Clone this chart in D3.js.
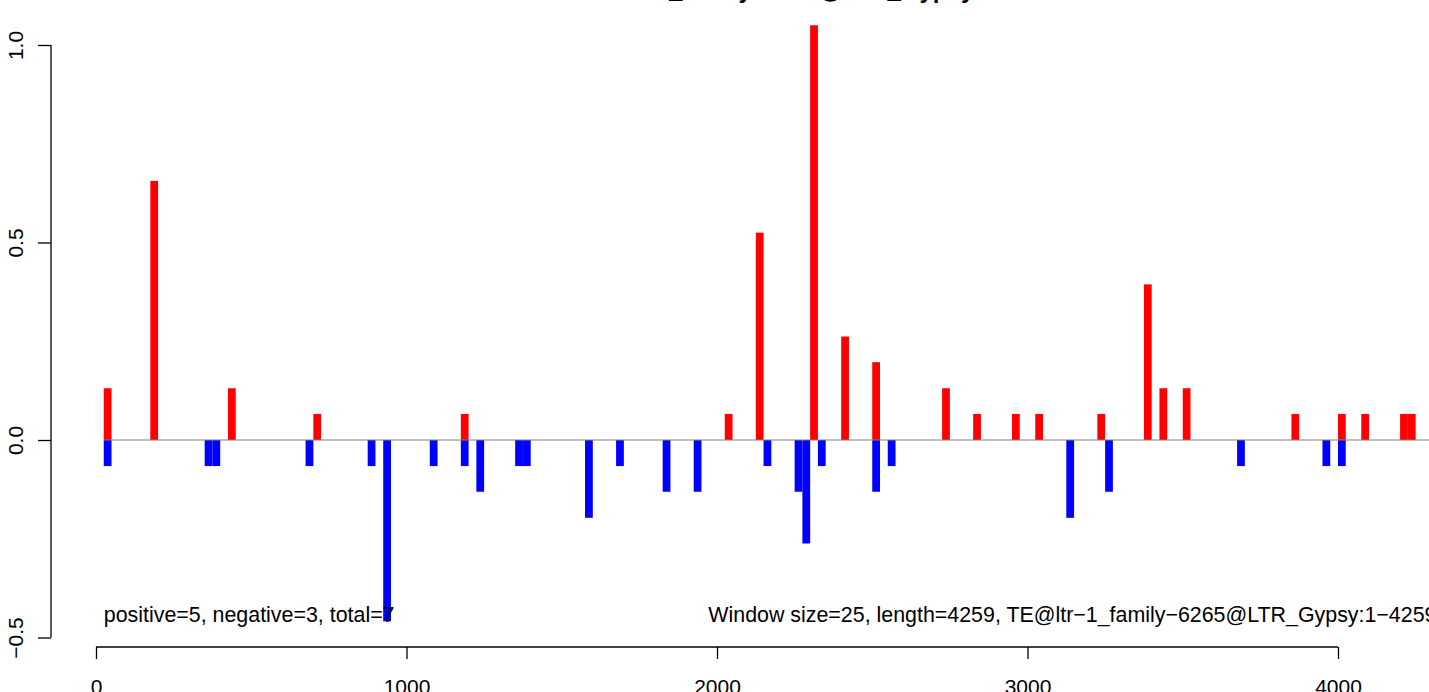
<!DOCTYPE html>
<html>
<head>
<meta charset="utf-8">
<script src="https://cdn.jsdelivr.net/npm/d3@7"></script>
<style>
  html, body { margin: 0; padding: 0; background: #fff; overflow: hidden; }
  svg { display: block; font-family: "Liberation Sans", Arial, Helvetica, sans-serif; }
</style>
</head>
<body>
<svg id="chart" width="1429" height="692"></svg>
<script>
// ---- data (window start positions, bp) ----
const windowSize = 25;
const posStarts = [25, 175, 425, 700, 1175, 2025, 2125, 2300, 2400, 2500, 2725, 2825, 2950, 3025, 3225, 3375, 3425, 3500, 3850, 4000, 4075, 4200, 4225];
const posValues = [0.131, 0.656, 0.131, 0.066, 0.066, 0.066, 0.525, 1.05, 0.262, 0.197, 0.131, 0.066, 0.066, 0.066, 0.066, 0.394, 0.131, 0.131, 0.066, 0.066, 0.066, 0.066, 0.066];
const negStarts = [25, 350, 375, 675, 875, 925, 1075, 1175, 1225, 1350, 1375, 1575, 1675, 1825, 1925, 2150, 2250, 2275, 2325, 2500, 2550, 3125, 3250, 3675, 3950, 4000];
const negValues = [-0.066, -0.066, -0.066, -0.066, -0.066, -0.459, -0.066, -0.066, -0.131, -0.066, -0.066, -0.197, -0.066, -0.131, -0.131, -0.066, -0.131, -0.262, -0.066, -0.131, -0.066, -0.197, -0.131, -0.066, -0.066, -0.066];
const xTicks = [0, 1000, 2000, 3000, 4000];
const xTickLabels = ["0", "1000", "2000", "3000", "4000"];
const yTicks = [-0.5, 0.0, 0.5, 1.0];
const yTickLabels = ["\u22120.5", "0.0", "0.5", "1.0"];
const titleText = "ltr\u22121_family\u22126265@LTR_Gypsy";
const leftNote = "positive=5, negative=3, total=7";
const rightNote = "Window size=25, length=4259, TE@ltr\u22121_family\u22126265@LTR_Gypsy:1\u22124259";

// ---- scales ----
const svg = d3.select("#chart");
const x = d3.scaleLinear().domain([0, 4000]).range([96, 1338]);
const y = d3.scaleLinear().domain([-0.5, 1.0]).range([637.5, 45]);

svg.append("rect").attr("width", 1429).attr("height", 692).attr("fill", "#fff");

// bars
const posData = posStarts.map((s, i) => ({ s, v: posValues[i] }));
const negData = negStarts.map((s, i) => ({ s, v: negValues[i] }));

svg.append("g").selectAll("rect").data(posData).join("rect")
  .attr("x", d => x(d.s))
  .attr("width", d => x(d.s + windowSize) - x(d.s))
  .attr("y", d => y(d.v))
  .attr("height", d => y(0) - y(d.v))
  .attr("fill", "#ff0000");

svg.append("g").selectAll("rect").data(negData).join("rect")
  .attr("x", d => x(d.s))
  .attr("width", d => x(d.s + windowSize) - x(d.s))
  .attr("y", y(0))
  .attr("height", d => y(d.v) - y(0))
  .attr("fill", "#0000ff");

// zero line
svg.append("line")
  .attr("x1", x(25)).attr("x2", x(4700))
  .attr("y1", y(0)).attr("y2", y(0))
  .attr("stroke", "#808080").attr("stroke-width", 1.2);

// x axis
const xAxis = d3.axisBottom(x).tickValues(xTicks).tickFormat((d, i) => xTickLabels[i]).tickSize(12).tickPadding(20);
const gx = svg.append("g").attr("transform", "translate(0,647)").call(xAxis);
gx.select(".domain").attr("d", `M${x(0)},0H${x(4000)}`).attr("stroke", "#000").attr("stroke-width", 1.3);
gx.selectAll(".tick line").attr("stroke", "#000").attr("stroke-width", 1.3);
gx.selectAll(".tick text").attr("font-size", 21).attr("fill", "#000")
  .attr("font-family", "Liberation Sans, Arial, sans-serif")
  .attr("dy", "0").attr("y", 47);

// y axis
const yAxis = d3.axisLeft(y).tickValues(yTicks).tickFormat((d, i) => yTickLabels[i]).tickSize(13);
const gy = svg.append("g").attr("transform", "translate(51,0)").call(yAxis);
gy.select(".domain").attr("d", `M0,${y(-0.5)}V${y(1.0)}`).attr("stroke", "#000").attr("stroke-width", 1.3);
gy.selectAll(".tick line").attr("stroke", "#000").attr("stroke-width", 1.3);
gy.selectAll(".tick text").remove();
gy.selectAll(".tick").append("text")
  .attr("transform", "translate(-28.5,0) rotate(-90)")
  .attr("text-anchor", "middle")
  .attr("font-size", 21)
  .attr("fill", "#000")
  .attr("font-family", "Liberation Sans, Arial, sans-serif")
  .text((d, i) => yTickLabels[i]);

// title (mostly clipped at top)
svg.append("text")
  .attr("x", 796).attr("y", -2.5)
  .attr("text-anchor", "middle")
  .attr("font-size", 24).attr("font-weight", "bold")
  .text(titleText);

// annotations
svg.append("text").attr("x", x(25)).attr("y", 622)
  .attr("font-size", 21.4).text(leftNote);
svg.append("text").attr("x", x(1972)).attr("y", 622)
  .attr("font-size", 21.4).text(rightNote);
</script>
</body>
</html>
